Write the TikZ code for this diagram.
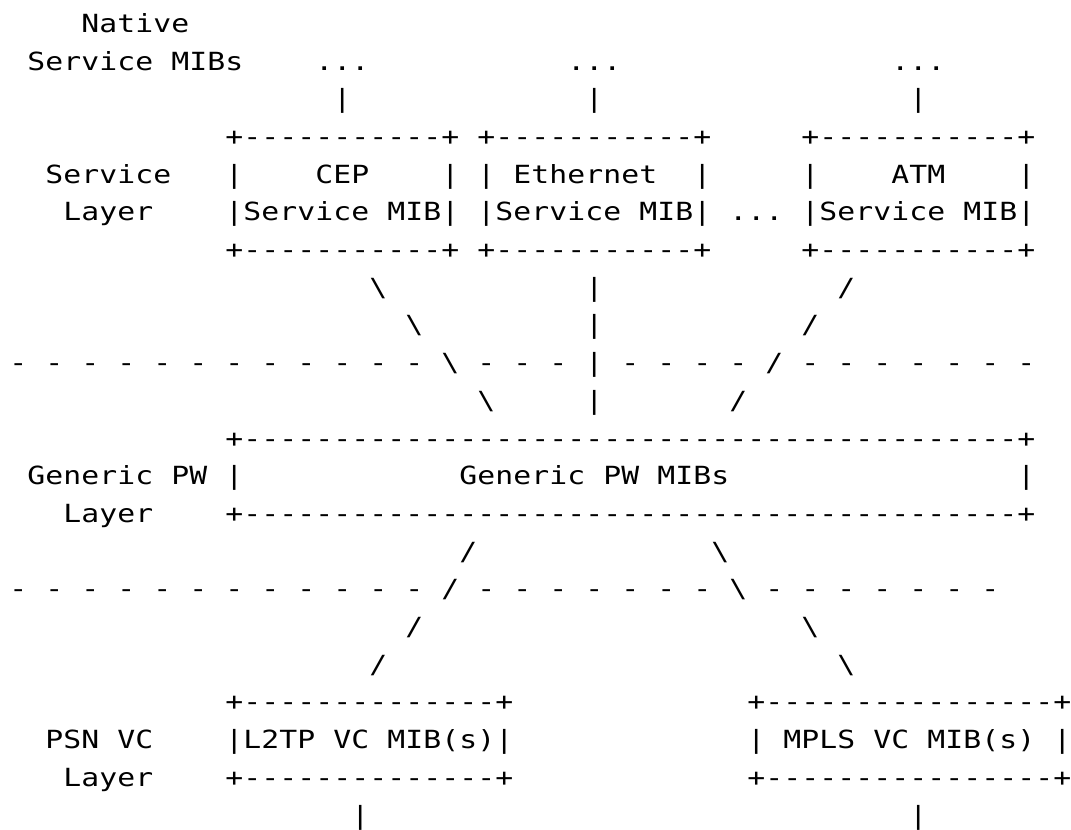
\documentclass[tikz,border=0pt]{standalone}
\usepackage{fontspec}
\newfontfamily\ascmono[FakeStretch=1.19]{DejaVu Sans Mono}
\makeatletter
% each character sits in a cell 18pt wide; "_" stands for a blank cell
\def\asc#1{\asc@loop#1\relax}
\def\asc@loop#1{\ifx#1\relax\else\asc@char{#1}\expandafter\asc@loop\fi}
\def\asc@char#1{\hbox to 18pt{\hss\ifx#1_\else#1\fi\hss}}
\makeatother
% \ascrun{name}{row}{column}{text}
\newcommand\ascrun[4]{\node[asctext] (#1) at ({9.3+18*#3},{-32.3-37.7*#2}) {\asc{#4}};}
\tikzset{asctext/.style={anchor=base west,inner sep=0pt,outer sep=0pt,
  font=\ascmono\fontsize{25pt}{25pt}\selectfont}}
\begin{document}
\begin{tikzpicture}[x=1pt,y=1pt]
\useasboundingbox (0,0) rectangle (1071,-830);
% native services
\ascrun{native}{0}{4}{Native}
\ascrun{nsmibs}{1}{1}{Service_MIBs}
\ascrun{dotsA}{1}{17}{...}
\ascrun{dotsB}{1}{31}{...}
\ascrun{dotsC}{1}{49}{...}
\ascrun{vA}{2}{18}{|}
\ascrun{vB}{2}{32}{|}
\ascrun{vC}{2}{50}{|}
% service layer
\ascrun{cepT}{3}{12}{+-----------+}
\ascrun{ethT}{3}{26}{+-----------+}
\ascrun{atmT}{3}{44}{+-----------+}
\ascrun{servL}{4}{2}{Service}
\ascrun{cepA}{4}{12}{|____CEP____|}
\ascrun{ethA}{4}{26}{|_Ethernet__|}
\ascrun{atmA}{4}{44}{|____ATM____|}
\ascrun{layL}{5}{3}{Layer}
\ascrun{cepB}{5}{12}{|Service_MIB|}
\ascrun{ethB}{5}{26}{|Service_MIB|}
\ascrun{dotsD}{5}{40}{...}
\ascrun{atmB}{5}{44}{|Service_MIB|}
\ascrun{cepU}{6}{12}{+-----------+}
\ascrun{ethU}{6}{26}{+-----------+}
\ascrun{atmU}{6}{44}{+-----------+}
% links to generic PW
\ascrun{sA1}{7}{20}{\textbackslash}
\ascrun{sB1}{7}{32}{|}
\ascrun{sC1}{7}{46}{/}
\ascrun{sA2}{8}{22}{\textbackslash}
\ascrun{sB2}{8}{32}{|}
\ascrun{sC2}{8}{44}{/}
\ascrun{sepA}{9}{0}{-_-_-_-_-_-_-_-_-_-_-_-_\textbackslash _-_-_-_|_-_-_-_-_/_-_-_-_-_-_-_-}
\ascrun{sA4}{10}{26}{\textbackslash}
\ascrun{sB4}{10}{32}{|}
\ascrun{sC4}{10}{40}{/}
% generic PW layer
\ascrun{gpwT}{11}{12}{+-------------------------------------------+}
\ascrun{gpwL}{12}{1}{Generic_PW}
\ascrun{gpwA}{12}{12}{|}
\ascrun{gpwM}{12}{25}{Generic_PW_MIBs}
\ascrun{gpwB}{12}{56}{|}
\ascrun{gpwL2}{13}{3}{Layer}
\ascrun{gpwU}{13}{12}{+-------------------------------------------+}
% links to PSN VC
\ascrun{pA1}{14}{25}{/}
\ascrun{pB1}{14}{39}{\textbackslash}
\ascrun{sepB}{15}{0}{-_-_-_-_-_-_-_-_-_-_-_-_/_-_-_-_-_-_-_-_\textbackslash _-_-_-_-_-_-_-}
\ascrun{pA3}{16}{22}{/}
\ascrun{pB3}{16}{44}{\textbackslash}
\ascrun{pA4}{17}{20}{/}
\ascrun{pB4}{17}{46}{\textbackslash}
% PSN VC layer
\ascrun{l2tpT}{18}{12}{+--------------+}
\ascrun{mplsT}{18}{41}{+----------------+}
\ascrun{psnL}{19}{2}{PSN_VC}
\ascrun{l2tpA}{19}{12}{|L2TP_VC_MIB(s)|}
\ascrun{mplsA}{19}{41}{|_MPLS_VC_MIB(s)_|}
\ascrun{psnL2}{20}{3}{Layer}
\ascrun{l2tpU}{20}{12}{+--------------+}
\ascrun{mplsU}{20}{41}{+----------------+}
\ascrun{l2tpV}{21}{19}{|}
\ascrun{mplsV}{21}{50}{|}
\end{tikzpicture}
\end{document}
